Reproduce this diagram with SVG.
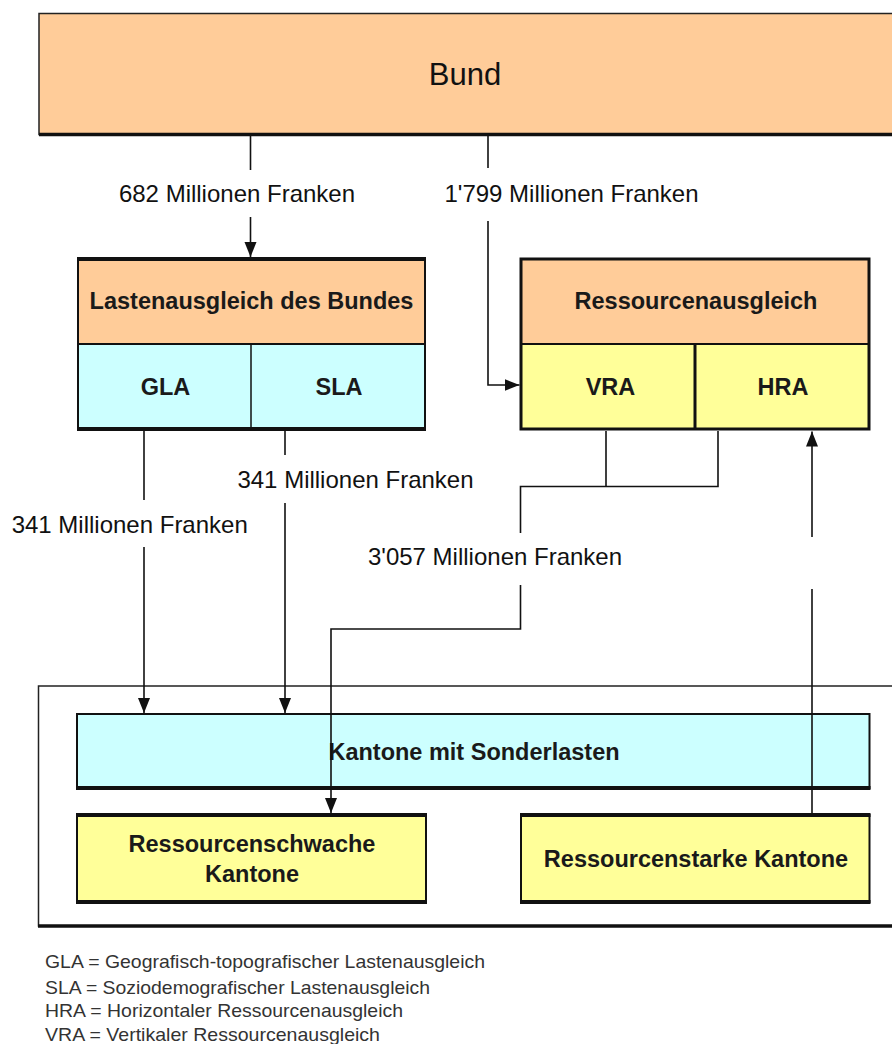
<svg xmlns="http://www.w3.org/2000/svg" width="892" height="1044" viewBox="0 0 892 1044">
<style>
.peach{fill:#FFCC99}
.cyan{fill:#CCFFFF}
.yellow{fill:#FFFF99}
.box{stroke:#111;stroke-width:2}
.thick{stroke:#111;stroke-width:4;fill:none}
.thin{stroke:#111;stroke-width:1.5;fill:none}
.b{font-family:"Liberation Sans",Arial,sans-serif;font-weight:bold;font-size:23.5px;fill:#1a1a1a;text-anchor:middle}
.r{font-family:"Liberation Sans",Arial,sans-serif;font-size:24px;fill:#111;text-anchor:middle}
.lg{font-family:"Liberation Sans",Arial,sans-serif;font-size:18.5px;fill:#333}
.c{stroke:#111;stroke-width:1.6;fill:none}
</style>
<defs>
<marker id="ah" markerUnits="userSpaceOnUse" markerWidth="16" markerHeight="13" refX="15" refY="6" orient="auto">
<path d="M0,0 L15,6 L0,12 z" fill="#111"/>
</marker>
</defs>
<rect width="892" height="1044" fill="#fff"/>

<g id="bund">
<rect x="39" y="13.5" width="870" height="121" class="peach" stroke="#222" stroke-width="1.5"/>
<line x1="39" y1="134.5" x2="892" y2="134.5" stroke="#111" stroke-width="3.5"/>
<text x="465" y="85" class="r" style="font-size:31px">Bund</text>
</g>

<g id="lastenausgleich">
<rect x="78" y="259" width="347" height="85" class="peach box"/>
<rect x="78" y="344" width="347" height="85" class="cyan box"/>
<line x1="251" y1="344" x2="251" y2="429" class="thin"/>
<line x1="77" y1="259" x2="426" y2="259" class="thick"/>
<line x1="77" y1="429" x2="426" y2="429" class="thick"/>
<text x="251.5" y="309" class="b">Lastenausgleich des Bundes</text>
<text x="165.5" y="395" class="b">GLA</text>
<text x="339" y="395" class="b">SLA</text>
</g>

<g id="ressourcenausgleich">
<rect x="521" y="259" width="348" height="85" class="peach box"/>
<rect x="521" y="344" width="348" height="85" class="yellow box"/>
<rect x="521" y="259" width="348" height="170" fill="none" stroke="#111" stroke-width="3"/>
<line x1="695" y1="344" x2="695" y2="429" stroke="#111" stroke-width="3"/>
<text x="696" y="309" class="b">Ressourcenausgleich</text>
<text x="610.5" y="395" class="b">VRA</text>
<text x="783" y="395" class="b">HRA</text>
</g>

<g id="kantone">
<rect x="38.5" y="686" width="870" height="240" fill="none" stroke="#222" stroke-width="1.5"/>
<line x1="38" y1="926" x2="892" y2="926" stroke="#111" stroke-width="3.5"/>
</g>

<g id="sonderlasten">
<rect x="77" y="714" width="792.5" height="74" class="cyan box"/>
<line x1="76" y1="788" x2="870.5" y2="788" class="thick"/>
<text x="474" y="760" class="b">Kantone mit Sonderlasten</text>
</g>

<g id="ressourcenschwach">
<rect x="77" y="815" width="349" height="87" class="yellow box"/>
<line x1="76" y1="815" x2="427" y2="815" class="thick"/>
<line x1="76" y1="902" x2="427" y2="902" class="thick"/>
<text x="252" y="851.5" class="b">Ressourcenschwache</text>
<text x="252" y="881.5" class="b">Kantone</text>
</g>

<g id="ressourcenstark">
<rect x="521" y="815" width="348.5" height="87" class="yellow box"/>
<line x1="520" y1="815" x2="870.5" y2="815" class="thick"/>
<line x1="520" y1="902" x2="870.5" y2="902" class="thick"/>
<text x="696" y="866.5" class="b">Ressourcenstarke Kantone</text>
</g>

<g id="connectors">
<path class="c" d="M250.5,136 V170"/>
<path class="c" d="M250.5,217 V257" marker-end="url(#ah)"/>
<path class="c" d="M488,136 V168"/>
<path class="c" d="M488,221 V385 H519.5" marker-end="url(#ah)"/>
<path class="c" d="M144,431 V500"/>
<path class="c" d="M144,547 V713" marker-end="url(#ah)"/>
<path class="c" d="M285,431 V455"/>
<path class="c" d="M285,503 V713" marker-end="url(#ah)"/>
<path class="c" d="M606,431 V486.5 M718,431 V486.5 H520.5 V533"/>
<path class="c" d="M520.5,585 V629 H331 V813" marker-end="url(#ah)"/>
<path class="c" d="M812,813 V589"/>
<path class="c" d="M812,537 V431.5" marker-end="url(#ah)"/>
</g>

<g id="labels">
<text x="237" y="202" class="r">682 Millionen Franken</text>
<text x="571.5" y="202" class="r">1'799 Millionen Franken</text>
<text x="355.5" y="488" class="r">341 Millionen Franken</text>
<text x="129.7" y="533" class="r">341 Millionen Franken</text>
<text x="495" y="565" class="r">3'057 Millionen Franken</text>
</g>

<g id="legend">
<text x="45" y="968" class="lg" textLength="440" lengthAdjust="spacingAndGlyphs">GLA = Geografisch-topografischer Lastenausgleich</text>
<text x="45" y="994" class="lg" textLength="385" lengthAdjust="spacingAndGlyphs">SLA = Soziodemografischer Lastenausgleich</text>
<text x="45" y="1017" class="lg" textLength="358" lengthAdjust="spacingAndGlyphs">HRA = Horizontaler Ressourcenausgleich</text>
<text x="45" y="1040.5" class="lg" textLength="335" lengthAdjust="spacingAndGlyphs">VRA = Vertikaler Ressourcenausgleich</text>
</g>
</svg>
